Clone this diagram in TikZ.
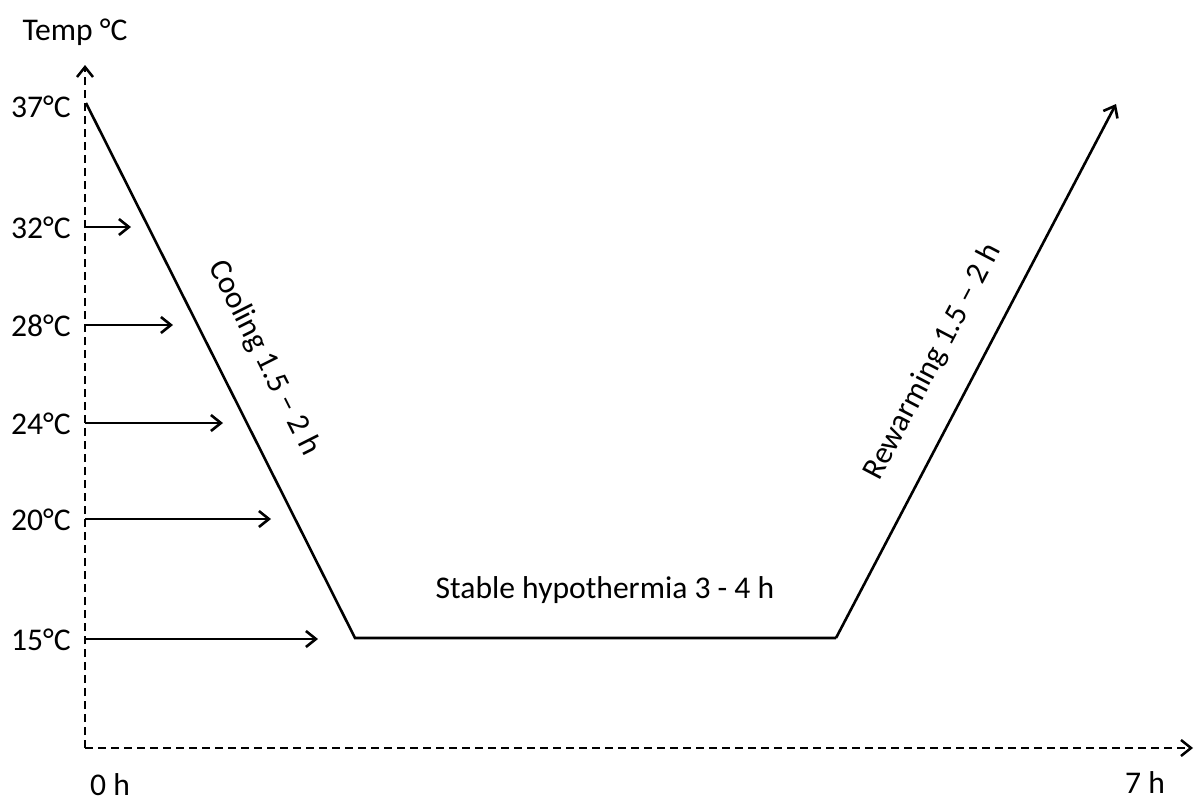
\documentclass[tikz,border=0pt]{standalone}
\usepackage{fontspec}
\setmainfont{Carlito}
\usetikzlibrary{arrows.meta}
\begin{document}
\begin{tikzpicture}[x=0.5pt,y=-0.5pt,
  lbl/.style={font=\fontsize{15.8}{18}\selectfont, inner sep=0pt},
  axis/.style={line width=1.25pt, dash pattern=on 4pt off 2.5pt, -{Straight Barb[length=5pt,width=8pt,line width=1.25pt]}},
  tickarrow/.style={line width=1.3pt, -{Straight Barb[length=5pt,width=8pt,line width=1.3pt]}},
  curve/.style={line width=1.3pt, line join=miter}]
\useasboundingbox (0,0) rectangle (1195,803);
% axes
\coordinate (O) at (85,748);
\coordinate (ytip) at (85,65);
\coordinate (xtip) at (1193,748);
\draw[axis] (O) -- (ytip);
\draw[axis] (O) -- (xtip);
% labels
\node[lbl] (temp) at (75,32) {Temp °C};
\node[lbl, anchor=east] (t37) at (71,107) {37°C};
\node[lbl, anchor=east] (t32) at (71,228) {32°C};
\node[lbl, anchor=east] (t28) at (71,326) {28°C};
\node[lbl, anchor=east] (t24) at (71,424) {24°C};
\node[lbl, anchor=east] (t20) at (71,520) {20°C};
\node[lbl, anchor=east] (t15) at (71,640) {15°C};
\node[lbl] (h0) at (110,785) {0 h};
\node[lbl] (h7) at (1145,783) {7 h};
% tick arrows
\coordinate (a32) at (85,227); \coordinate (b32) at (131,227);
\coordinate (a28) at (85,325); \coordinate (b28) at (173,325);
\coordinate (a24) at (85,423); \coordinate (b24) at (223,423);
\coordinate (a20) at (85,519); \coordinate (b20) at (271,519);
\coordinate (a15) at (85,639); \coordinate (b15) at (318,639);
\draw[tickarrow] (a32) -- (b32);
\draw[tickarrow] (a28) -- (b28);
\draw[tickarrow] (a24) -- (b24);
\draw[tickarrow] (a20) -- (b20);
\draw[tickarrow] (a15) -- (b15);
% temperature curve
\coordinate (p0) at (86,103);
\coordinate (p1) at (355,638);
\coordinate (p2) at (836,638);
\coordinate (p3) at (1116,104);
\draw[curve] (p0) -- (p1) -- (p2);
\draw[curve, -{Straight Barb[length=5pt,width=8pt,line width=1.3pt]}] (p2) -- (p3);
% phase labels
\node[lbl, rotate=-63.3] (cool) at (264,358) {Cooling 1.5 – 2 h};
\node[lbl, rotate=62.3] (rew) at (933,362) {Rewarming 1.5 – 2 h};
\node[lbl] (stable) at (605,590) {Stable hypothermia 3 - 4 h};
\end{tikzpicture}
\end{document}
